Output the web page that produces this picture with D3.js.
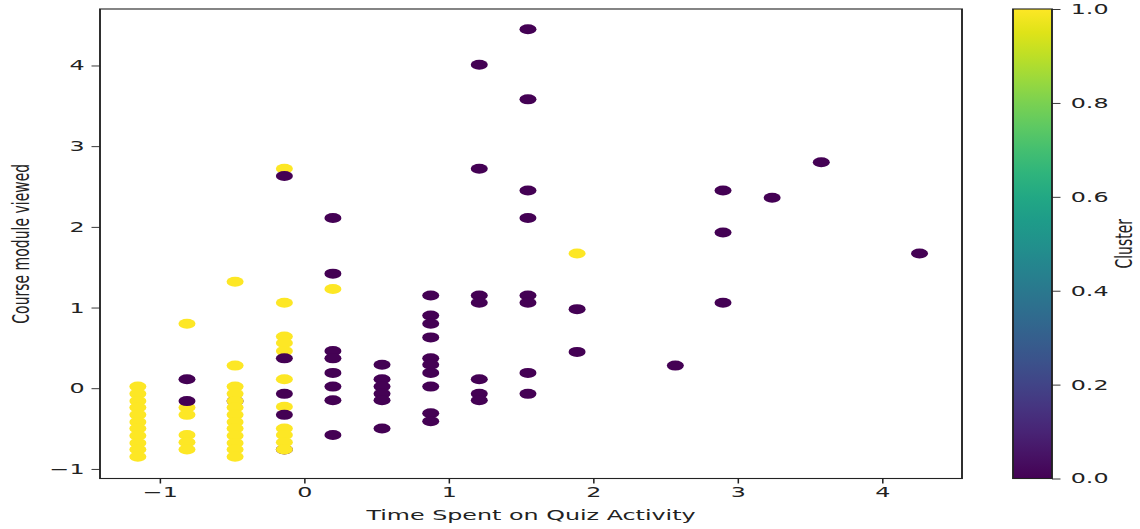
<!DOCTYPE html>
<html><head><meta charset="utf-8">
<script src="https://cdn.jsdelivr.net/npm/d3@7"></script>
<style>html,body{margin:0;padding:0;background:#fff;overflow:hidden}</style>
</head><body><div id="chart"></div>
<script>
// ---- data ----
const xTicks = [-1, 0, 1, 2, 3, 4];
const yTicks = [-1, 0, 1, 2, 3, 4];
const cbTicks = [0, 0.2, 0.4, 0.6, 0.8, 1.0];
const xLabel = "Time Spent on Quiz Activity";
const yLabel = "Course module viewed";
const cbLabel = "Cluster";

// cluster 0 points hidden beneath cluster 1 points (drawn first)
const purpleBehind = [[-0.477, -0.16], [-0.136, -0.76]];
// cluster 1
const yellowPoints = [
  [-1.15, 0.02], [-1.15, -0.07], [-1.15, -0.16], [-1.15, -0.24], [-1.15, -0.33], [-1.15, -0.42],
  [-1.15, -0.50], [-1.15, -0.59], [-1.15, -0.68], [-1.15, -0.76], [-1.15, -0.85],
  [-0.81, 0.80], [-0.81, -0.24], [-0.81, -0.33], [-0.81, -0.58], [-0.81, -0.67], [-0.81, -0.76],
  [-0.477, 1.32], [-0.477, 0.28], [-0.477, 0.02], [-0.477, -0.07], [-0.477, -0.16], [-0.477, -0.24],
  [-0.477, -0.33], [-0.477, -0.42], [-0.477, -0.50], [-0.477, -0.59], [-0.477, -0.68], [-0.477, -0.76], [-0.477, -0.85],
  [-0.136, 2.72], [-0.136, 1.06], [-0.136, 0.64], [-0.136, 0.56], [-0.136, 0.46], [-0.136, 0.11],
  [-0.136, -0.23], [-0.136, -0.50], [-0.136, -0.58], [-0.136, -0.67], [-0.136, -0.76],
  [0.20, 1.23], [1.89, 1.67]
];
// cluster 0
const purplePoints = [
  [-0.81, 0.11], [-0.81, -0.16],
  [-0.136, 2.63], [-0.136, 0.37], [-0.136, -0.07], [-0.136, -0.33],
  [0.20, 2.11], [0.20, 1.42], [0.20, 0.46], [0.20, 0.37], [0.20, 0.19], [0.20, 0.02], [0.20, -0.15], [0.20, -0.58],
  [0.54, 0.29], [0.54, 0.11], [0.54, 0.02], [0.54, -0.07], [0.54, -0.15], [0.54, -0.50],
  [0.877, 1.15], [0.877, 0.90], [0.877, 0.80], [0.877, 0.63], [0.877, 0.37], [0.877, 0.29], [0.877, 0.19],
  [0.877, 0.02], [0.877, -0.31], [0.877, -0.41],
  [1.213, 4.01], [1.213, 2.72], [1.213, 1.15], [1.213, 1.06], [1.213, 0.11], [1.213, -0.07], [1.213, -0.15],
  [1.55, 4.45], [1.55, 3.58], [1.55, 2.45], [1.55, 2.11], [1.55, 1.15], [1.55, 1.06], [1.55, 0.19], [1.55, -0.07],
  [1.89, 0.98], [1.89, 0.45],
  [2.57, 0.28],
  [2.90, 2.45], [2.90, 1.93], [2.90, 1.06],
  [3.24, 2.36], [3.58, 2.80], [4.26, 1.67]
];

// ---- layout ----
const W = 1140, H = 529, K = 1.7, VW = W / K;
const px = v => v / K;
const font = "DejaVu Sans";
const svg = d3.select("#chart").append("svg")
  .attr("width", W).attr("height", H)
  .attr("viewBox", `0 0 ${VW} ${H}`)
  .attr("preserveAspectRatio", "none");

const plot = {left: px(100), right: px(962), top: 9, bottom: 478.5};
const x = d3.scaleLinear().domain([-1.412, 4.554]).range([plot.left, plot.right]);
const y = d3.scaleLinear().domain([-1.119, 4.70]).range([plot.bottom, plot.top]);
const color = d3.scaleSequential(d3.interpolateViridis).domain([0, 1]);

// points
const g = svg.append("g");
function drawPts(arr, c) {
  g.selectAll(null).data(arr).enter().append("circle")
    .attr("cx", d => x(d[0])).attr("cy", d => y(d[1])).attr("r", 5)
    .attr("fill", color(c));
}
drawPts(purpleBehind, 0);
drawPts(yellowPoints, 1);
drawPts(purplePoints, 0);

// axes
const xAxis = svg.append("g").attr("transform", `translate(0,${plot.bottom})`)
  .call(d3.axisBottom(x).tickValues(xTicks).tickSize(5).tickPadding(4)
    .tickFormat(d => d < 0 ? "\u2212" + Math.abs(d) : d));
const yAxis = svg.append("g").attr("transform", `translate(${plot.left},0)`)
  .call(d3.axisLeft(y).tickValues(yTicks).tickSize(5).tickPadding(4)
    .tickFormat(d => d < 0 ? "\u2212" + Math.abs(d) : d));
[xAxis, yAxis].forEach(a => {
  a.select(".domain").remove();
  a.selectAll("line").attr("stroke", "#222").attr("stroke-width", 0.9);
  a.selectAll("text").attr("font-family", font).attr("font-size", 14).attr("fill", "#222");
});

svg.append("rect").attr("x", plot.left).attr("y", plot.top)
  .attr("width", plot.right - plot.left).attr("height", plot.bottom - plot.top)
  .attr("fill", "none").attr("stroke", "#222").attr("stroke-width", 1.1);

// axis labels
svg.append("text").attr("x", (plot.left + plot.right) / 2).attr("y", 520)
  .attr("text-anchor", "middle").attr("font-family", font).attr("font-size", 14).attr("fill", "#222")
  .text(xLabel);
svg.append("text").attr("transform", `translate(${px(29)},${(plot.top + plot.bottom) / 2}) rotate(-90)`)
  .attr("text-anchor", "middle").attr("font-family", font).attr("font-size", 14).attr("fill", "#222")
  .text(yLabel);

// colorbar
const cb = {left: px(1013), right: px(1052), top: plot.top, bottom: plot.bottom};
const grad = svg.append("defs").append("linearGradient").attr("id", "vir")
  .attr("x1", 0).attr("y1", 1).attr("x2", 0).attr("y2", 0);
d3.range(0, 1.0001, 0.05).forEach(t => grad.append("stop").attr("offset", t).attr("stop-color", color(t)));
svg.append("rect").attr("x", cb.left).attr("y", cb.top)
  .attr("width", cb.right - cb.left).attr("height", cb.bottom - cb.top)
  .attr("fill", "url(#vir)").attr("stroke", "#222").attr("stroke-width", 1.1);
const cbScale = d3.scaleLinear().domain([0, 1]).range([cb.bottom, cb.top]);
const cbAxis = svg.append("g").attr("transform", `translate(${cb.right},0)`)
  .call(d3.axisRight(cbScale).tickValues(cbTicks).tickSize(5).tickPadding(6).tickFormat(d3.format(".1f")));
cbAxis.select(".domain").remove();
cbAxis.selectAll("line").attr("stroke", "#222").attr("stroke-width", 0.9);
cbAxis.selectAll("text").attr("font-family", font).attr("font-size", 14).attr("fill", "#222");
svg.append("text").attr("transform", `translate(${px(1132)},${(cb.top + cb.bottom) / 2}) rotate(-90)`)
  .attr("text-anchor", "middle").attr("font-family", font).attr("font-size", 14).attr("fill", "#222")
  .text(cbLabel);
</script></body></html>
